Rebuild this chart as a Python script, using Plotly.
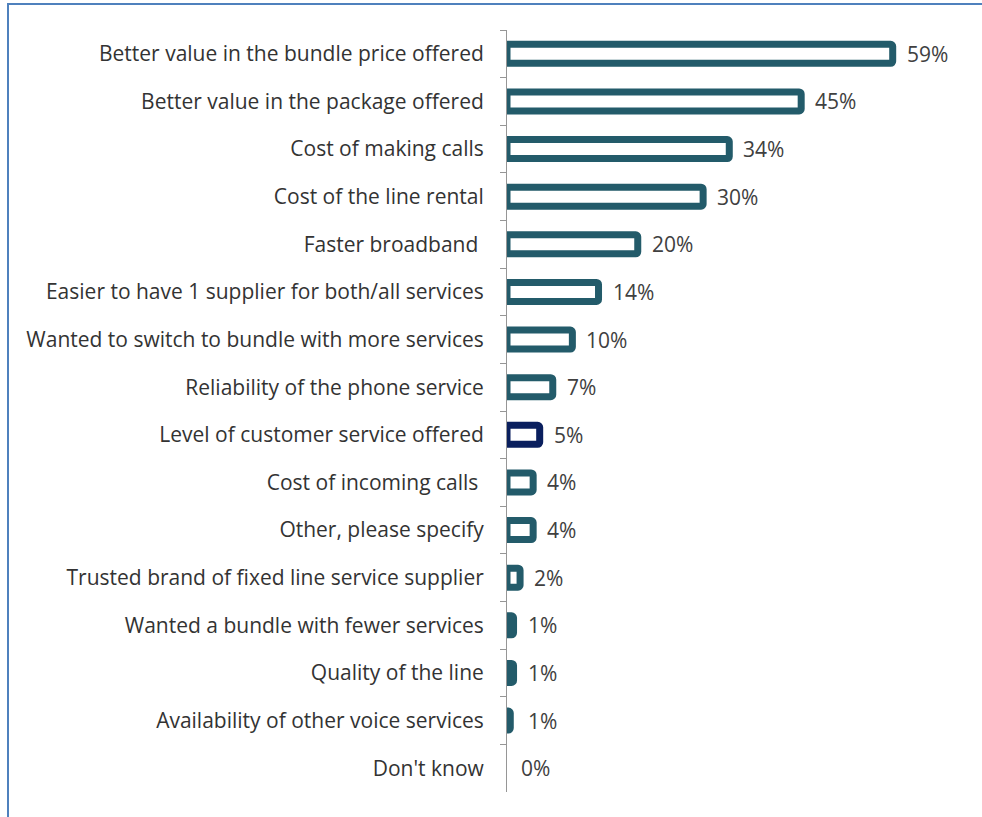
import plotly.graph_objects as go

categories = [
    "Better value in the bundle price offered",
    "Better value in the package offered",
    "Cost of making calls",
    "Cost of the line rental",
    "Faster broadband ",
    "Easier to have 1 supplier for both/all services",
    "Wanted to switch to bundle with more services",
    "Reliability of the phone service",
    "Level of customer service offered",
    "Cost of incoming calls ",
    "Other, please specify",
    "Trusted brand of fixed line service supplier",
    "Wanted a bundle with fewer services",
    "Quality of the line",
    "Availability of other voice services",
    "Don't know",
]
values = [59, 45, 34, 30, 20, 14, 10, 7, 5, 4, 4, 2, 1, 1, 1, 0]
label_text = ["59%", "45%", "34%", "30%", "20%", "14%", "10%", "7%", "5%",
              "4%", "4%", "2%", "1%", "1%", "1%", "0%"]
bar_widths = [59, 45, 34, 30, 20, 14, 10, 7, 5, 4, 4, 2, 1.0, 1.0, 0.5, 0]

TEAL = "#235b6a"
NAVY = "#0a1f5e"
line_colors = [NAVY if c == "Level of customer service offered" else TEAL for c in categories]
line_widths = [7 if v > 0 else 0 for v in bar_widths]

W, H = 982, 817
L, R, T, B = 507, 20, 30, 25
PW, PH = W - L - R, H - T - B
FONT = "Open Sans"

fig = go.Figure()
fig.add_trace(go.Bar(
    x=bar_widths,
    y=categories,
    orientation="h",
    width=0.40,
    marker=dict(color="white", line=dict(color=line_colors, width=line_widths), cornerradius=2),
    hoverinfo="skip",
))

for c, v, t in zip(categories, values, label_text):
    fig.add_annotation(x=v, y=c, text=t, showarrow=False, xanchor="left",
                       xshift=12, font=dict(size=21, color="#404040", family=FONT))

fig.update_layout(
    width=W, height=H,
    margin=dict(l=L, r=R, t=T, b=B),
    paper_bgcolor="white", plot_bgcolor="white",
    showlegend=False,
    font=dict(family=FONT, size=21, color="#333333"),
    xaxis=dict(range=[0, 69.6], visible=False, fixedrange=True),
    yaxis=dict(
        autorange="reversed",
        showline=True, linecolor="#969696", linewidth=1,
        ticks="outside", ticklen=6, tickcolor="#969696", tickson="boundaries",
        ticklabelstandoff=18,
        tickfont=dict(size=21, color="#333333", family=FONT),
        showgrid=False, fixedrange=True,
    ),
    shapes=[dict(type="rect", xref="paper", yref="paper",
                 x0=(8 - L) / PW, x1=(W + 20 - L) / PW,
                 y0=-(B + 20) / PH, y1=1 + (T - 4) / PH,
                 line=dict(color="#4f81bd", width=2), fillcolor="rgba(0,0,0,0)",
                 layer="below")],
)

fig.write_html("out.html", config={"displayModeBar": False, "staticPlot": True},
               post_script="document.body.style.margin='0';document.body.style.overflow='hidden';")
